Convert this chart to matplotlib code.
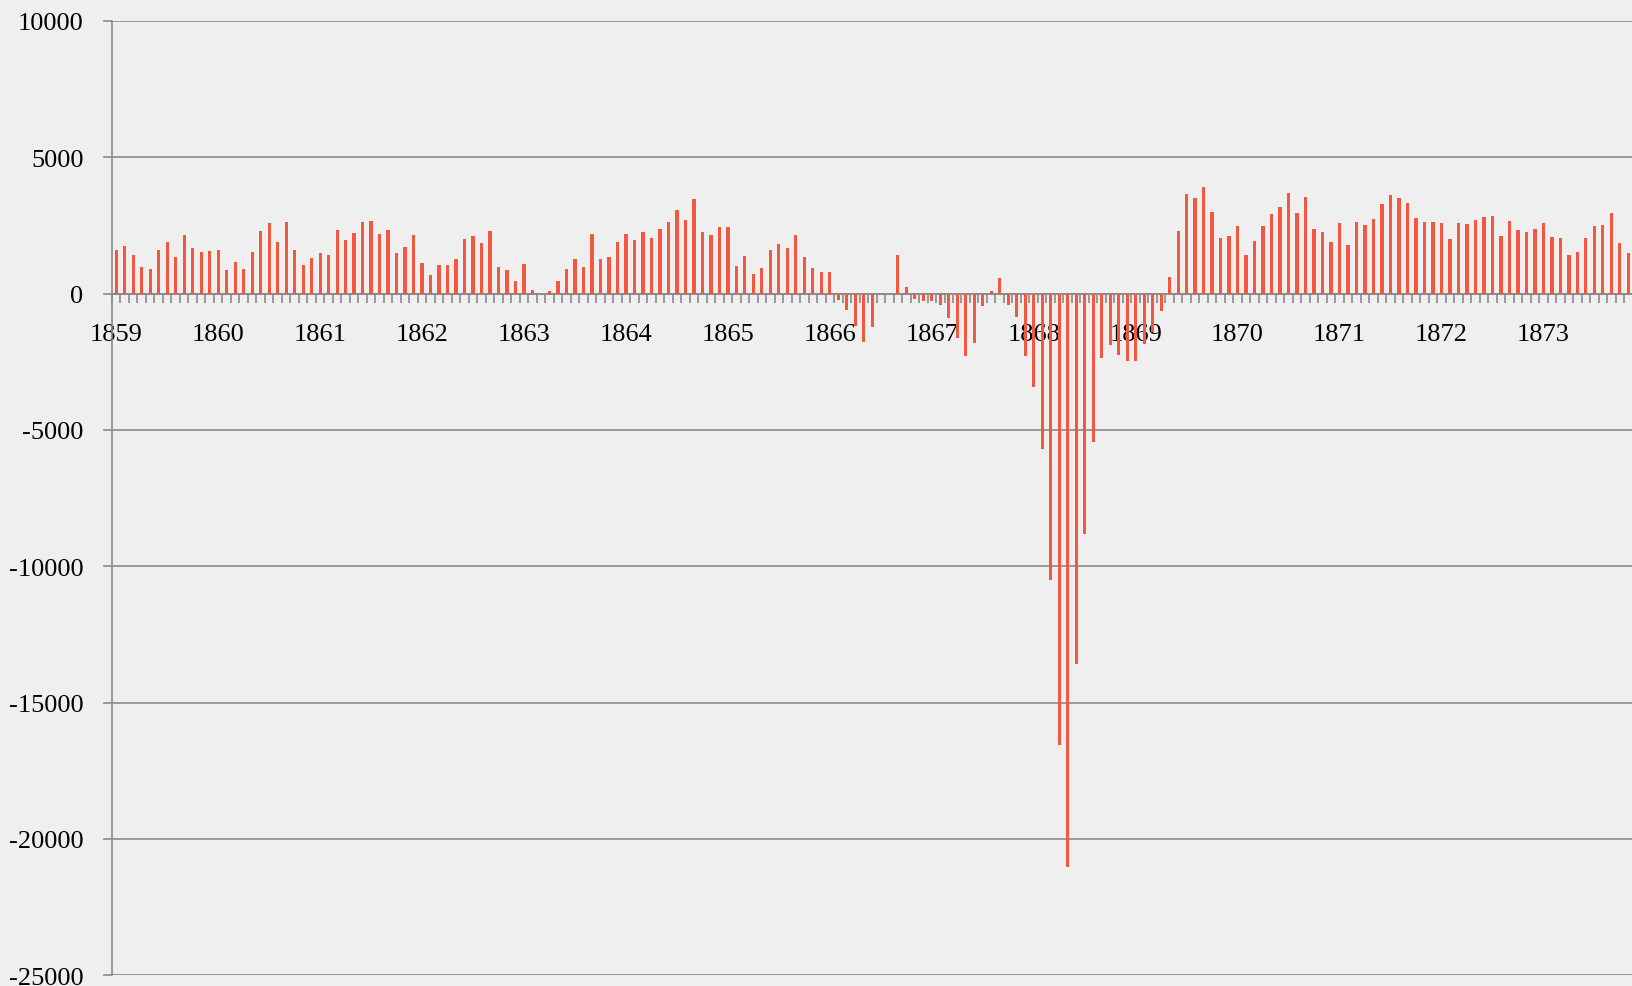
import matplotlib.pyplot as plt
import numpy as np
from matplotlib.ticker import FixedLocator, FuncFormatter

plt.switch_backend('agg')

plt.rcParams['font.family'] = ['Liberation Serif', 'DejaVu Serif']
plt.rcParams['font.size'] = 19

# monthly values, January 1859 .. November 1873 (last month is cut off by the frame)
values = [
    1589, 1747, 1430, 990, 904, 1613, 1894, 1356, 2139, 1686, 1540, 1576,           # 1859
    1613, 880, 1173, 917, 1528, 2310, 2603, 1906, 2615, 1589, 1063, 1295,           # 1860
    1479, 1418, 2322, 1980, 2212, 2615, 2652, 2200, 2346, 1491, 1699, 2151,         # 1861
    1112, 672, 1063, 1039, 1271, 2016, 2114, 1845, 2285, 978, 855, 464,             # 1862
    1075, 122, 0, 86, 452, 904, 1271, 990, 2187, 1259, 1356, 1894,                  # 1863
    2187, 1980, 2248, 2041, 2371, 2640, 3055, 2701, 3470, 2273, 2139, 2432,         # 1864
    2432, 1026, 1369, 733, 929, 1589, 1821, 1686, 2151, 1344, 929, 794,             # 1865
    782, -220, -600, -1185, -1790, -1220, 0, 0, 1421, 254, -194, -254,              # 1866
    -284, -434, -883, -1631, -2304, -1825, -449, 90, 568, -419, -853, -2274,        # 1867
    -3411, -5700, -10517, -16561, -21019, -13569, -8811, -5430, -2349, -1870, -2259, -2468,  # 1868
    -2483, -1840, -1391, -640, 611, 2285, 3654, 3519, 3898, 2982, 2041, 2126,       # 1869
    2493, 1430, 1943, 2468, 2933, 3189, 3703, 2969, 3532, 2383, 2248, 1906,         # 1870
    2603, 1796, 2640, 2505, 2725, 3299, 3617, 3495, 3312, 2762, 2615, 2640,         # 1871
    2603, 1992, 2578, 2542, 2688, 2823, 2835, 2126, 2664, 2322, 2248, 2371,         # 1872
    2578, 2077, 2041, 1430, 1540, 2041, 2468, 2517, 2945, 1845, 1491,               # 1873
]
years = list(range(1859, 1874))
y_ticks = [-25000, -20000, -15000, -10000, -5000, 0, 5000, 10000]

bg = '#efefef'
bar_color = '#f4573f'
grid_color = '#8a8a8a'

fig = plt.figure(figsize=(16.33, 9.87), dpi=100, facecolor=bg)
W, H = 1633, 987
left = 112 / W
bottom = 1 - 976.3 / H
top = 1 - 22 / H
ax = fig.add_axes([left, bottom, 1 - left, top - bottom])
ax.set_facecolor(bg)

x = np.arange(len(values))
ax.bar(x, values, width=0.38, color=bar_color, zorder=3)

# one category is ~8.495 px wide; right border of the figure cuts the last months
ax.set_xlim(-0.5, -0.5 + (W - 112) / 8.495)
ax.set_ylim(-25000, 10000)

for s in ['top', 'right']:
    ax.spines[s].set_visible(False)
ax.spines['left'].set_color(grid_color)
ax.spines['left'].set_linewidth(1.2)
ax.spines['bottom'].set_position(('data', 0))
ax.spines['bottom'].set_color(grid_color)
ax.spines['bottom'].set_linewidth(1.2)
ax.spines['bottom'].set_zorder(2)

# y axis
ax.yaxis.set_major_locator(FixedLocator(y_ticks))
ax.yaxis.set_major_formatter(FuncFormatter(lambda v, p: str(int(v))))
ax.tick_params(axis='y', length=6.5, width=1.2, color=grid_color, pad=14, labelsize=19)
ax.yaxis.grid(True, color=grid_color, linewidth=1.2, zorder=1)
ax.set_axisbelow(True)

# x axis: year labels on January, small ticks on month boundaries
ax.xaxis.set_major_locator(FixedLocator([12 * i for i in range(len(years))]))
ax.set_xticklabels([str(y) for y in years])
ax.xaxis.set_minor_locator(FixedLocator(np.arange(len(values) + 1) - 0.5))
ax.tick_params(axis='x', which='major', length=0, pad=21, labelsize=19)
ax.tick_params(axis='x', which='minor', length=6.8, width=1.2, color=grid_color, direction='out')

fig.savefig('out.png', dpi=100, facecolor=bg)
